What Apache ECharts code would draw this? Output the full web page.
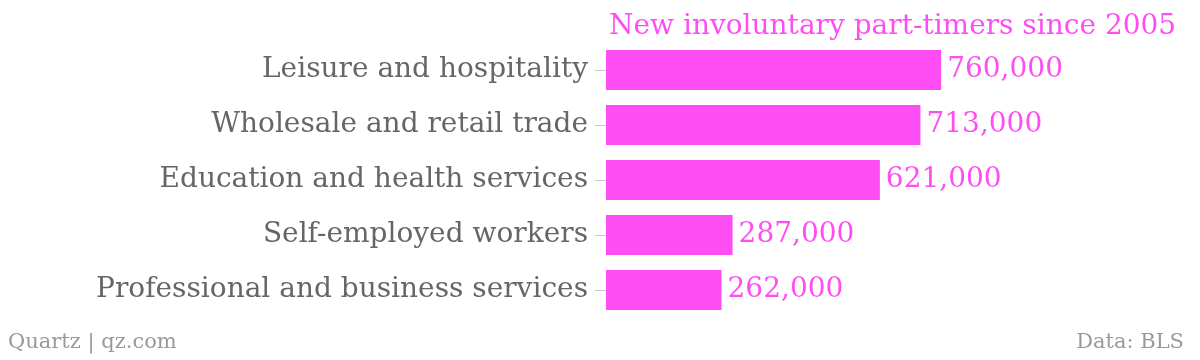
<!DOCTYPE html>
<html>
<head>
<meta charset="utf-8">
<script src="https://cdn.jsdelivr.net/npm/echarts@6/dist/echarts.min.js"></script>
<style>
html,body{margin:0;padding:0;background:#fff;}
#chart{width:1200px;height:360px;}
</style>
</head>
<body>
<div id="chart"></div>
<script>
const categories = [
  "Leisure and hospitality",
  "Wholesale and retail trade",
  "Education and health services",
  "Self-employed workers",
  "Professional and business services"
];
const values = [760000, 713000, 621000, 287000, 262000];
const titleText = "New involuntary part-timers since 2005";
const sourceLeft = "Quartz | qz.com";
const sourceRight = "Data: BLS";

const FONT = "'DejaVu Serif', 'Liberation Serif', serif";
const PINK = "#ff4df4";

const chart = echarts.init(document.getElementById('chart'));
chart.setOption({
  animation: false,
  backgroundColor: '#ffffff',
  title: {
    text: titleText,
    left: 604,
    top: 8,
    textStyle: { fontFamily: FONT, fontSize: 28, fontWeight: 'normal', color: PINK }
  },
  grid: { left: 606, top: 42.5, width: 441, height: 275, containLabel: false },
  xAxis: {
    type: 'value', min: 0, max: 1000000, show: false
  },
  yAxis: {
    type: 'category',
    data: categories,
    inverse: true,
    axisLine: { show: false },
    axisTick: { show: true, length: 11, alignWithLabel: true, lineStyle: { color: '#c8c8c8', width: 1 } },
    axisLabel: { margin: 18, fontFamily: FONT, fontSize: 28, color: '#666666' }
  },
  series: [{
    type: 'bar',
    data: values,
    barWidth: 40,
    itemStyle: { color: PINK },
    label: {
      show: true,
      position: 'right',
      distance: 6,
      fontFamily: FONT,
      fontSize: 28,
      color: PINK,
      formatter: p => p.value.toLocaleString('en-US')
    }
  }],
  graphic: [
    { type: 'text', left: 8, top: 332, style: { text: sourceLeft, fontFamily: FONT, fontSize: 21, fill: '#999999' } },
    { type: 'text', right: 16, top: 332, style: { text: sourceRight, fontFamily: FONT, fontSize: 21, fill: '#999999' } }
  ]
});
</script>
</body>
</html>
